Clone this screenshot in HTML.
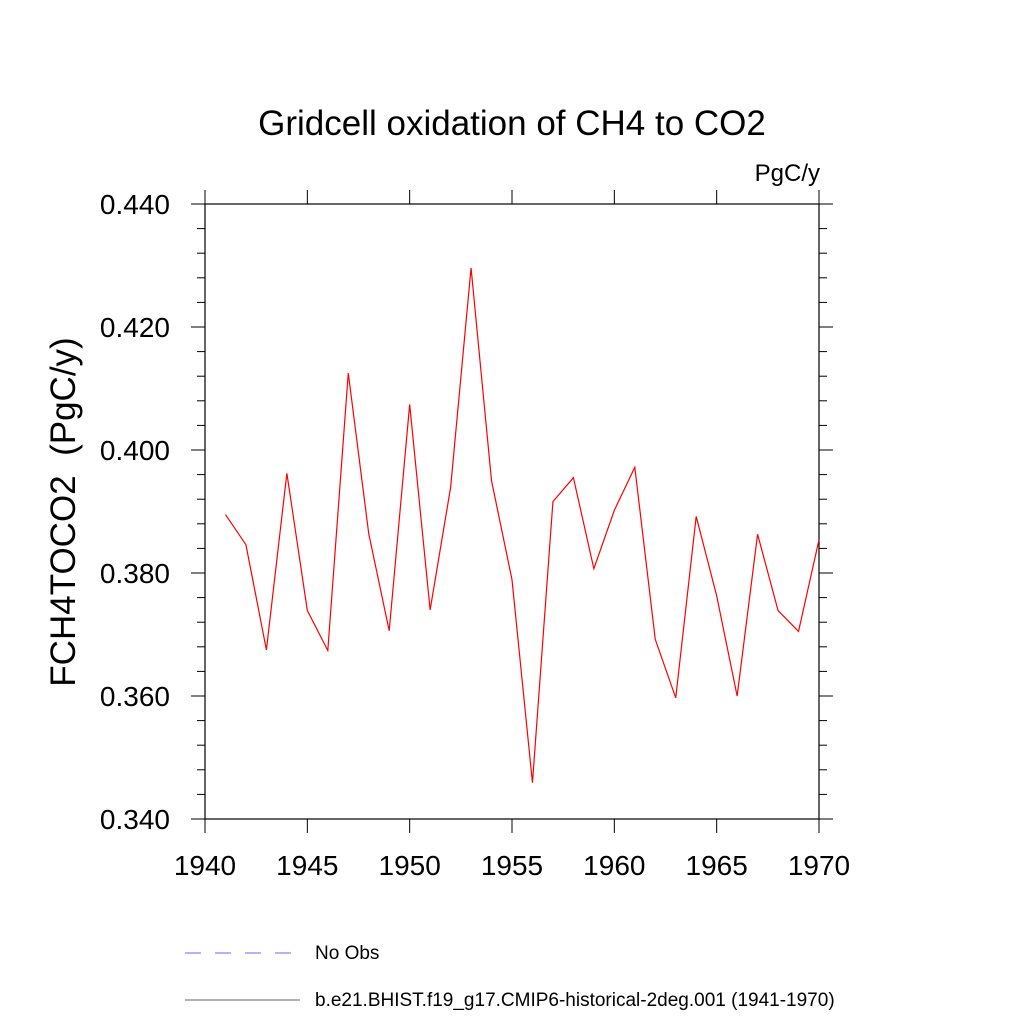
<!DOCTYPE html>
<html><head><meta charset="utf-8"><style>body{margin:0;background:#fff}svg{display:block}text{font-family:"Liberation Sans",sans-serif}</style></head>
<body>
<svg id="c" width="1024" height="1024">
<text x="512" y="135" font-size="35" text-anchor="middle">Gridcell oxidation of CH4 to CO2</text>
<text x="820" y="181" font-size="24" text-anchor="end">PgC/y</text>
<text transform="translate(75,512) rotate(-90)" font-size="35" text-anchor="middle" xml:space="preserve" style="white-space:pre">FCH4TOCO2  (PgC/y)</text>
<g id="ax"></g>
<g>
<line x1="185" y1="953" x2="295" y2="953" stroke="#66f" stroke-width="1" stroke-dasharray="16,14"/>
<text x="315" y="959" font-size="19">No Obs</text>
<line x1="185" y1="1000" x2="300" y2="1000" stroke="#666" stroke-width="1"/>
<text x="315" y="1006" font-size="19">b.e21.BHIST.f19_g17.CMIP6-historical-2deg.001 (1941-1970)</text>
</g>
</svg>
<script>
const years=[1941,1942,1943,1944,1945,1946,1947,1948,1949,1950,1951,1952,1953,1954,1955,1956,1957,1958,1959,1960,1961,1962,1963,1964,1965,1966,1967,1968,1969,1970];
const values=[0.3895,0.3846,0.3675,0.3962,0.3739,0.3674,0.4125,0.3864,0.3706,0.4074,0.3740,0.3939,0.4296,0.3950,0.3789,0.3459,0.3916,0.3955,0.3807,0.3902,0.3972,0.3692,0.3597,0.3892,0.3763,0.3600,0.3863,0.3739,0.3705,0.3854];
const xTicks=[1940,1945,1950,1955,1960,1965,1970];
const yTicks=[0.340,0.360,0.380,0.400,0.420,0.440];
const L=205,R=819,T=204,B=819,X0=1940,X1=1970,Y0=0.340,Y1=0.440;
const sx=v=>L+(v-X0)/(X1-X0)*(R-L), sy=v=>B-(v-Y0)/(Y1-Y0)*(B-T);
const NS='http://www.w3.org/2000/svg',g=document.getElementById('ax');
function mk(t,a){const e=document.createElementNS(NS,t);for(const k in a)e.setAttribute(k,a[k]);g.appendChild(e);return e;}
const box=mk('rect',{x:L,y:T,width:R-L,height:B-T,fill:'none',stroke:'#000','stroke-width':1.2});


xTicks.forEach(v=>{const x=sx(v);
 const a=mk('line',{x1:x,y1:B,x2:x,y2:B+14,stroke:'#000'});
 
 
 const b=mk('line',{x1:x,y1:T,x2:x,y2:T-14,stroke:'#000'});
 
 
 const t=mk('text',{x:x,y:875,'font-size':28,'text-anchor':'middle'});t.textContent=v;
 
 });
for(let i=0;i<=25;i++){const v=Y0+i*0.004,maj=(i%5===0),len=maj?14:8,y=sy(v);
 const a=mk('line',{x1:L,y1:y,x2:L-len,y2:y,stroke:'#000'});
 
 
 const b=mk('line',{x1:R,y1:y,x2:R+len,y2:y,stroke:'#000'});
 
 }
yTicks.forEach(v=>{const t=mk('text',{x:170,y:sy(v)+10,'font-size':28,'text-anchor':'end'});t.textContent=v.toFixed(3);
 
 });
const p=mk('polyline',{points:years.map((y,i)=>sx(y)+','+sy(values[i])).join(' '),fill:'none',stroke:'#f00','stroke-width':1.2});


</script>
</body></html>
